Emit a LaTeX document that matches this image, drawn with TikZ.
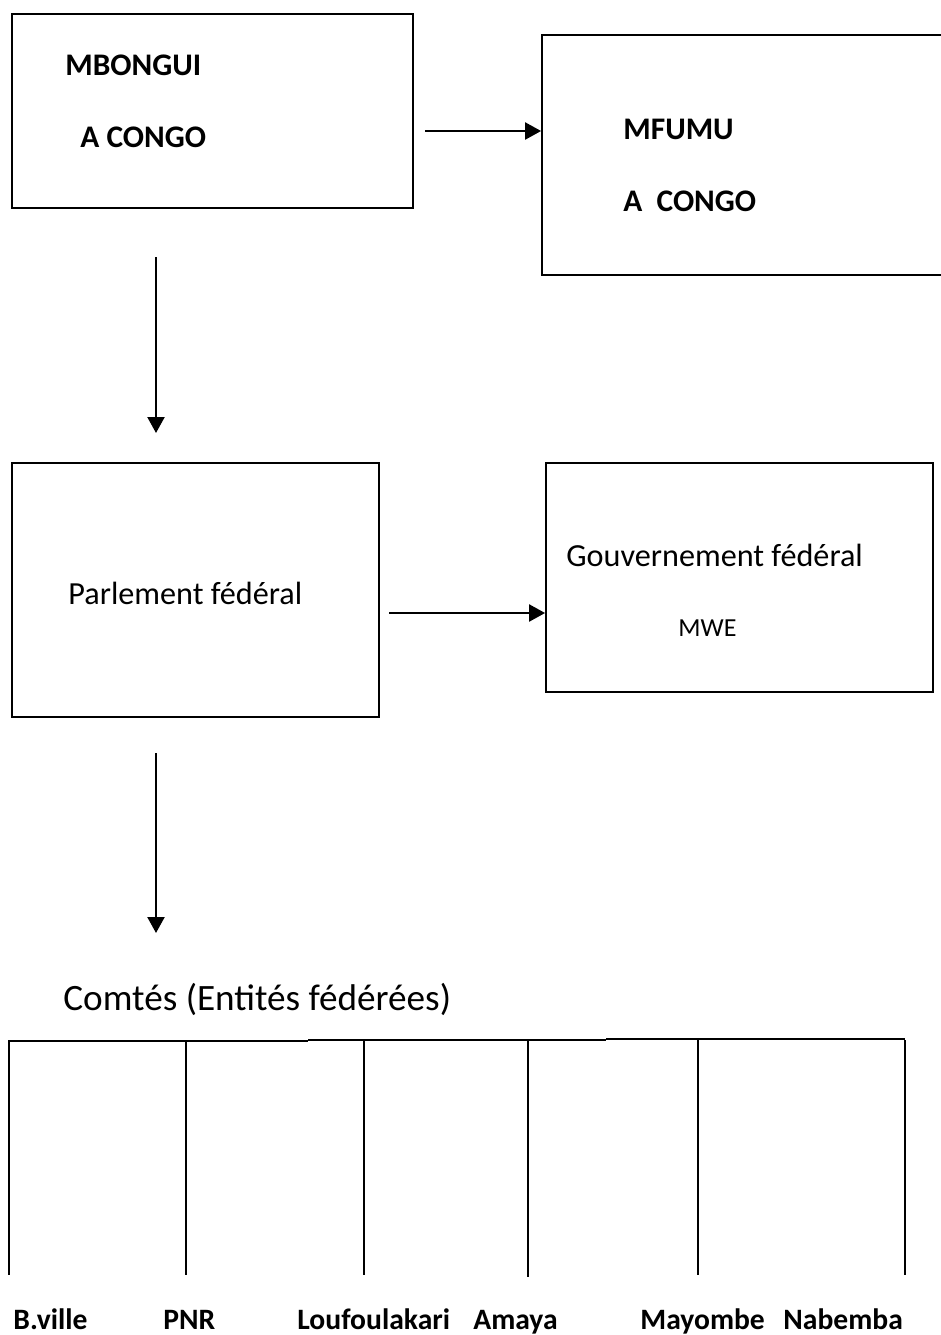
\documentclass[tikz,border=0pt]{standalone}
\usepackage{fontspec}
\setmainfont{Carlito}
\usetikzlibrary{arrows.meta,fit}

\tikzset{
  box/.style={draw, line width=0.9pt, inner sep=0pt},
  flow/.style={line width=1.1pt, -{Triangle[length=8pt,width=8.5pt]}},
  title/.style={anchor=base west, inner sep=0pt, font=\bfseries\fontsize{15.7}{18}\selectfont},
  plain/.style={anchor=base west, inner sep=0pt, font=\fontsize{16.1}{19}\selectfont},
  comte/.style={anchor=base west, inner sep=0pt, font=\bfseries\fontsize{14.8}{17}\selectfont}
}

\begin{document}
\begin{tikzpicture}[x=0.5pt,y=-0.5pt]
  \clip (0,0) rectangle (941,1335);

  % boxes
  \node[box, fit={(12,14) (413,208)}] (mbongui) {};
  \node[box, fit={(542,35) (960,275)}] (mfumu) {};
  \node[box, fit={(12,463) (379,717)}] (parlement) {};
  \node[box, fit={(546,463) (933,692)}] (gouv) {};

  % texts in the boxes
  \node[title] (t1) at (65,75) {MBONGUI};
  \node[title] (t2) at (80,147) {A CONGO};
  \node[title] (t3) at (623,139) {MFUMU};
  \node[title] (t4) at (623,211) {A\ \ CONGO};
  \node[plain] (t5) at (68,604) {Parlement fédéral};
  \node[plain] (t6) at (566,566) {Gouvernement fédéral};
  \node[anchor=base west, inner sep=0pt, font=\fontsize{13}{15}\selectfont] (t7) at (678,636) {MWE};

  % arrows
  \coordinate (a1) at (425,131);
  \draw[flow] (a1) -- (a1 -| mfumu.west);
  \coordinate (a2) at (389,613);
  \draw[flow] (a2) -- (a2 -| gouv.west);
  \coordinate (d1s) at (156,257);
  \coordinate (d1e) at (156,433);
  \draw[flow] (d1s) -- (d1e);
  \coordinate (d2s) at (156,753);
  \coordinate (d2e) at (156,933);
  \draw[flow] (d2s) -- (d2e);

  \node[anchor=base west, inner sep=0pt, font=\fontsize{18.6}{22}\selectfont] (comtes) at (63,1010) {Comtés (Entités fédérées)};

  % comtes
  \draw[line width=0.9pt] (9,1041) -- (308,1041) (308,1040) -- (606,1040) (606,1039) -- (905,1039);
  \foreach \x/\b in {9/1275,186/1275,364/1275,528/1277,698/1275,905/1275}
    \draw[line width=0.8pt] (\x,1040) -- (\x,\b);

  \node[comte] (bville) at (13,1329) {B.ville};
  \node[comte] (pnr) at (163,1329) {PNR};
  \node[comte] (louf) at (297,1329) {Loufoulakari};
  \node[comte] (amaya) at (473,1329) {Amaya};
  \node[comte] (mayombe) at (640,1329) {Mayombe};
  \node[comte] (nabemba) at (783,1329) {Nabemba};
\end{tikzpicture}
\end{document}
